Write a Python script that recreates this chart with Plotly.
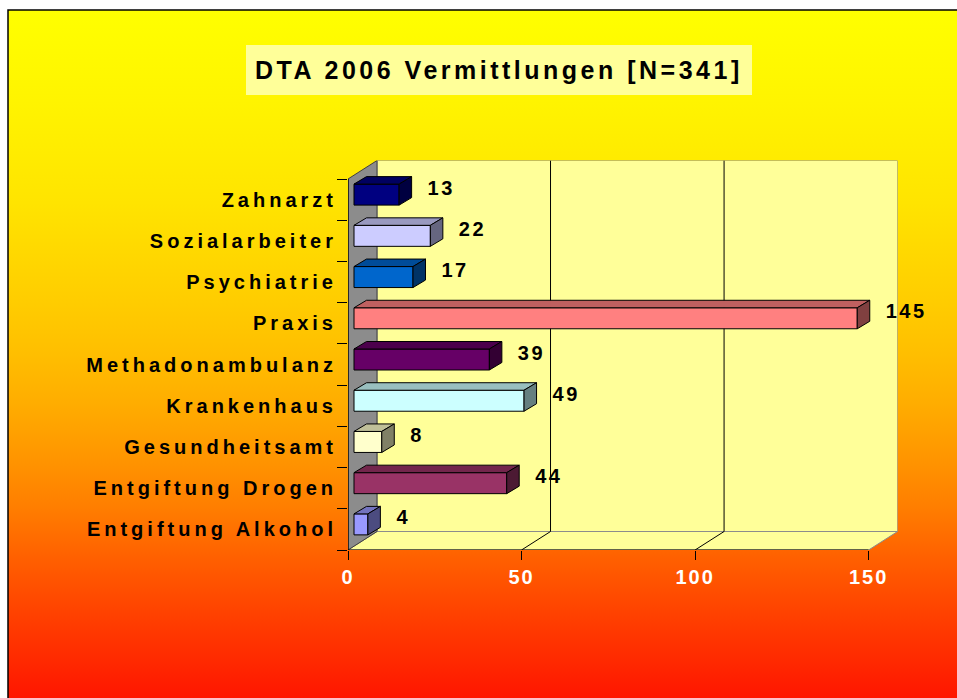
import base64
import plotly.graph_objects as go

# ---------------- data ----------------
categories = ["Zahnarzt", "Sozialarbeiter", "Psychiatrie", "Praxis", "Methadonambulanz",
              "Krankenhaus", "Gesundheitsamt", "Entgiftung Drogen", "Entgiftung Alkohol"]
values = [13, 22, 17, 145, 39, 49, 8, 44, 4]
front_colors = ["#000080", "#CCCCFF", "#0066CC", "#FF8080", "#660066",
                "#CCFFFF", "#FFFFCC", "#993366", "#9999FF"]
x_tick_vals = [0, 50, 100, 150]
x_tick_labels = ["0", "50", "100", "150"]
title_text = "DTA 2006 Vermittlungen [N=341]"

# ---------------- geometry (pixels -> data units) ----------------
W_FIG, H_FIG = 957, 698


def px(x):
    return x / W_FIG


def py(y):
    return 1 - y / H_FIG


X0_PX, X150_PX = 348.0, 868.6
Y_BOTTOM_PX, Y_TOP_PX = 550.0, 179.0
PX_X = (X150_PX - X0_PX) / 150.0
PX_Y = (Y_BOTTOM_PX - Y_TOP_PX) / 9.0
DXW = 29.0 / PX_X      # wall depth (x)
DYW = 18.5 / PX_Y      # wall depth (y)
FX = 6.0 / PX_X        # bar front face offset
FY = 5.0 / PX_Y
BX = 12.5 / PX_X       # bar depth
BY = 7.5 / PX_Y
BW = 21.0 / PX_Y       # bar thickness

n = len(categories)
pos = [n - 1 - i for i in range(n)]
x_max = 150 + DXW
y_min, y_max = -0.5, n - 0.5 + DYW

FONT = "Liberation Sans, Arial, sans-serif"


def shade(hexc, f):
    h = hexc.lstrip("#")
    r, g, b = (int(h[i:i + 2], 16) for i in (0, 2, 4))
    return "rgb(%d,%d,%d)" % (round(r * f), round(g * f), round(b * f))


def spaced(t, ls):
    return '<span style="letter-spacing:%spx">%s</span>' % (ls, t)


fig = go.Figure()

# front faces
fig.add_trace(go.Bar(
    orientation="h", x=values, y=pos, base=FX, width=BW, offset=FY - BW / 2,
    marker=dict(color=front_colors, line=dict(color="black", width=1)),
    showlegend=False, hoverinfo="skip"))

# top and side faces
for v, p, c in zip(values, pos, front_colors):
    yb = p + FY - BW / 2
    yt = p + FY + BW / 2
    x0, x1 = FX, FX + v
    fig.add_trace(go.Scatter(
        x=[x0, x1, x1 + BX, x0 + BX, x0], y=[yt, yt, yt + BY, yt + BY, yt],
        mode="lines", fill="toself", fillcolor=shade(c, 0.75),
        line=dict(color="black", width=1), showlegend=False, hoverinfo="skip"))
    fig.add_trace(go.Scatter(
        x=[x1, x1, x1 + BX, x1 + BX, x1], y=[yb, yt, yt + BY, yb + BY, yb],
        mode="lines", fill="toself", fillcolor=shade(c, 0.5),
        line=dict(color="black", width=1), showlegend=False, hoverinfo="skip"))

# value labels
fig.add_trace(go.Scatter(
    x=[v + FX + BX + 16.0 / PX_X for v in values],
    y=[p + FY + 5.0 / PX_Y for p in pos],
    mode="text", text=[spaced(str(v), 2.5) for v in values],
    textposition="middle right", cliponaxis=False,
    textfont=dict(family=FONT, size=20, color="black", weight="bold"),
    showlegend=False, hoverinfo="skip"))

# ---------------- background gradient ----------------
stops_px = [(10, "#FFFF00"), (100, "#FFF400"), (200, "#FFE400"), (300, "#FFCC00"),
            (350, "#FFBE00"), (400, "#FFAC00"), (450, "#FF9600"), (500, "#FF7E00"),
            (550, "#FF6000"), (600, "#FF4400"), (650, "#FF2A00"), (698, "#FF1000")]
stops = "".join('<stop offset="%.4f" stop-color="%s"/>' % ((y - 10) / 688.0, c) for y, c in stops_px)
svg = ('<svg xmlns="http://www.w3.org/2000/svg" width="100" height="100" viewBox="0 0 100 100" '
       'preserveAspectRatio="none"><defs><linearGradient id="g" x1="0" y1="0" x2="0" y2="1">'
       + stops + '</linearGradient></defs><rect width="100" height="100" fill="url(#g)"/></svg>')
uri = "data:image/svg+xml;base64," + base64.b64encode(svg.encode()).decode()

shapes = []
# frame
shapes.append(dict(type="rect", xref="paper", yref="paper", x0=px(8), x1=1.2,
                   y0=-0.2, y1=py(10), line=dict(color="black", width=1.5),
                   fillcolor="rgba(0,0,0,0)", layer="below"))
# title box
shapes.append(dict(type="rect", xref="paper", yref="paper", x0=px(246), x1=px(752),
                   y0=py(95), y1=py(45), line=dict(width=0),
                   fillcolor="#FFFF99", layer="below"))
# back wall
shapes.append(dict(type="rect", xref="x", yref="y", x0=DXW, x1=150 + DXW,
                   y0=-0.5 + DYW, y1=n - 0.5 + DYW, fillcolor="#FFFF99",
                   line=dict(color="#8C8C8C", width=1), layer="below"))
# floor
shapes.append(dict(type="path", xref="x", yref="y",
                   path="M 0,-0.5 L 150,-0.5 L %f,%f L %f,%f Z" % (150 + DXW, -0.5 + DYW, DXW, -0.5 + DYW),
                   fillcolor="#FFFF99", line=dict(color="#8C8C8C", width=1), layer="below"))
# left wall
shapes.append(dict(type="path", xref="x", yref="y",
                   path="M 0,-0.5 L 0,%f L %f,%f L %f,%f Z" % (n - 0.5, DXW, n - 0.5 + DYW, DXW, -0.5 + DYW),
                   fillcolor="#8C8C8C", line=dict(color="#404040", width=1), layer="below"))
# gridlines on back wall and floor
for gx in x_tick_vals[1:]:
    if gx < 150:
        shapes.append(dict(type="line", xref="x", yref="y", x0=gx + DXW, x1=gx + DXW,
                           y0=-0.5 + DYW, y1=n - 0.5 + DYW, line=dict(color="black", width=1),
                           layer="below"))
        shapes.append(dict(type="line", xref="x", yref="y", x0=gx, x1=gx + DXW,
                           y0=-0.5, y1=-0.5 + DYW, line=dict(color="black", width=1),
                           layer="below"))
# front axis lines
shapes.append(dict(type="line", xref="x", yref="y", x0=0, x1=150, y0=-0.5, y1=-0.5,
                   line=dict(color="black", width=1.2), layer="above"))
shapes.append(dict(type="line", xref="x", yref="y", x0=0, x1=0, y0=-0.5, y1=n - 0.5,
                   line=dict(color="black", width=1.2), layer="above"))

fig.update_layout(
    width=W_FIG, height=H_FIG,
    margin=dict(l=0, r=0, t=0, b=0, autoexpand=False),
    paper_bgcolor="white", plot_bgcolor="rgba(0,0,0,0)",
    showlegend=False,
    images=[dict(source=uri, xref="paper", yref="paper", x=px(8), y=py(10),
                 sizex=1.0, sizey=1.0, sizing="stretch",
                 xanchor="left", yanchor="top", layer="below")],
    shapes=shapes,
    annotations=[dict(text=spaced(title_text, 3.5), xref="paper", yref="paper",
                      x=px(499), y=py(70), xanchor="center", yanchor="middle",
                      showarrow=False,
                      font=dict(family=FONT, size=25, color="black", weight="bold"))],
    xaxis=dict(domain=[px(X0_PX), px(X0_PX + x_max * PX_X)],
               range=[0, x_max], tickmode="array", tickvals=x_tick_vals,
               ticktext=[spaced(t, 2) for t in x_tick_labels],
               tickfont=dict(family=FONT, size=20, color="white", weight="bold"),
               ticks="outside", ticklen=9, tickcolor="black", tickwidth=1,
               showgrid=False, zeroline=False, showline=False, automargin=False),
    yaxis=dict(domain=[py(Y_BOTTOM_PX), py(Y_BOTTOM_PX - (y_max - y_min) * PX_Y)],
               range=[y_min, y_max], tickmode="array", tickvals=pos,
               ticktext=[spaced(c, 4) for c in categories],
               tickfont=dict(family=FONT, size=20, color="black", weight="bold"),
               ticks="outside", ticklen=6, tickcolor="rgba(0,0,0,0)",
               minor=dict(tickmode="array", tickvals=[i - 0.5 for i in range(n + 1)],
                          ticks="outside", ticklen=10, tickcolor="black", tickwidth=1,
                          showgrid=False),
               showgrid=False, zeroline=False, showline=False, automargin=False),
)

fig.write_html("out.html", config={"displayModeBar": False},
               post_script="document.body.style.margin='0';document.body.style.overflow='hidden';")
